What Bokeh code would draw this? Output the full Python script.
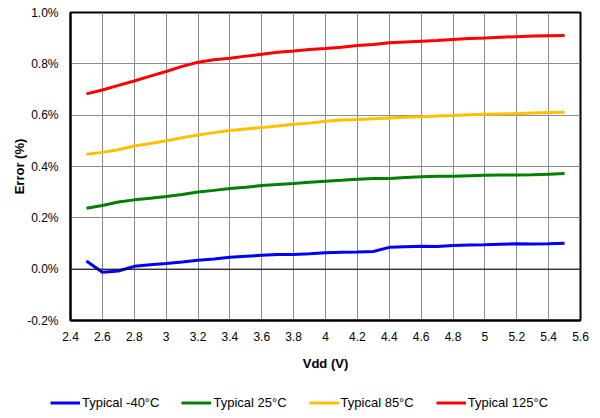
from bokeh.plotting import figure
from bokeh.models import Range1d, FixedTicker, Legend, LegendItem, Span
from bokeh.layouts import column, row
from bokeh.embed import file_html
from bokeh.resources import INLINE

vdd = [2.5, 2.6, 2.7, 2.8, 2.9, 3.0, 3.1, 3.2, 3.3, 3.4, 3.5, 3.6, 3.7, 3.8, 3.9, 4.0,
       4.1, 4.2, 4.3, 4.4, 4.5, 4.6, 4.7, 4.8, 4.9, 5.0, 5.1, 5.2, 5.3, 5.4, 5.5]
err_m40 = [0.032, -0.012, -0.007, 0.011, 0.017, 0.022, 0.028, 0.035, 0.040, 0.046, 0.050,
           0.054, 0.057, 0.057, 0.060, 0.064, 0.066, 0.067, 0.069, 0.085, 0.087, 0.089,
           0.088, 0.092, 0.094, 0.095, 0.097, 0.099, 0.098, 0.099, 0.101]
err_25 = [0.237, 0.248, 0.262, 0.270, 0.276, 0.283, 0.291, 0.301, 0.307, 0.314, 0.319,
          0.326, 0.330, 0.334, 0.339, 0.343, 0.346, 0.350, 0.353, 0.353, 0.357, 0.360,
          0.362, 0.362, 0.364, 0.366, 0.367, 0.367, 0.368, 0.370, 0.373]
err_85 = [0.448, 0.455, 0.465, 0.480, 0.490, 0.500, 0.512, 0.523, 0.532, 0.540, 0.546,
          0.552, 0.558, 0.565, 0.569, 0.576, 0.581, 0.583, 0.586, 0.589, 0.592, 0.594,
          0.597, 0.599, 0.602, 0.604, 0.605, 0.606, 0.608, 0.610, 0.611]
err_125 = [0.683, 0.698, 0.716, 0.733, 0.752, 0.770, 0.790, 0.806, 0.816, 0.822, 0.830,
           0.837, 0.845, 0.850, 0.856, 0.860, 0.865, 0.871, 0.875, 0.882, 0.885, 0.888,
           0.891, 0.895, 0.899, 0.901, 0.904, 0.906, 0.908, 0.909, 0.910]

series_names = ["Typical -40°C", "Typical 25°C", "Typical 85°C", "Typical 125°C"]
series_values = [err_m40, err_25, err_85, err_125]
series_colors = ["#0000FF", "#008000", "#FFC000", "#FF0000"]

x_ticks = [2.4, 2.6, 2.8, 3.0, 3.2, 3.4, 3.6, 3.8, 4.0, 4.2, 4.4, 4.6, 4.8, 5.0, 5.2, 5.4, 5.6]
x_tick_labels = ["2.4", "2.6", "2.8", "3", "3.2", "3.4", "3.6", "3.8", "4", "4.2", "4.4",
                 "4.6", "4.8", "5", "5.2", "5.4", "5.6"]
y_ticks = [-0.2, 0.0, 0.2, 0.4, 0.6, 0.8, 1.0]
y_tick_labels = ["-0.2%", "0.0%", "0.2%", "0.4%", "0.6%", "0.8%", "1.0%"]

FONT = "Liberation Sans"

p = figure(width=592, height=380, output_backend="svg", toolbar_location=None,
           x_range=Range1d(2.4, 5.6), y_range=Range1d(-0.2, 1.0),
           min_border_left=70, min_border_right=12, min_border_top=12, min_border_bottom=60)
p.background_fill_color = "white"
p.border_fill_color = "white"
p.outline_line_color = "black"
p.outline_line_width = 2

p.xaxis.ticker = FixedTicker(ticks=x_ticks)
p.yaxis.ticker = FixedTicker(ticks=y_ticks)
p.xaxis.major_label_overrides = {t: l for t, l in zip(x_ticks, x_tick_labels)}
p.yaxis.major_label_overrides = {t: l for t, l in zip(y_ticks, y_tick_labels)}

for ax in (p.xaxis, p.yaxis):
    ax.axis_line_color = "black"
    ax.axis_line_width = 2
    ax.major_tick_out = 0
    ax.major_tick_in = 0
    ax.minor_tick_out = 0
    ax.minor_tick_in = 0
    ax.major_label_text_font = FONT
    ax.major_label_text_font_size = "12px"
    ax.major_label_text_color = "black"
    ax.axis_label_text_font = FONT
    ax.axis_label_text_font_size = "13px"
    ax.axis_label_text_font_style = "bold"
    ax.axis_label_text_color = "black"

p.xaxis.axis_label = "Vdd (V)"
p.yaxis.axis_label = "Error (%)"
p.xaxis.major_label_standoff = 11
p.yaxis.major_label_standoff = 12
p.xaxis.axis_label_standoff = 12
p.yaxis.axis_label_standoff = -3

p.xgrid.grid_line_color = "#8c8c8c"
p.ygrid.grid_line_color = "#8c8c8c"
p.xgrid.grid_line_width = 1
p.ygrid.grid_line_width = 1

p.add_layout(Span(location=0, dimension="width", line_color="black", line_width=1))

for vals, col in zip(series_values, series_colors):
    p.line(vdd, vals, line_color=col, line_width=3)

# Legend strip below the chart (series drawn off-range so only the legend shows)
lg = figure(width=592, height=30, output_backend="svg", toolbar_location=None,
            x_range=Range1d(0, 1), y_range=Range1d(0, 1),
            x_axis_location=None, y_axis_location=None,
            min_border_left=0, min_border_right=0, min_border_top=0, min_border_bottom=0)
lg.grid.visible = False
lg.outline_line_color = None
lg.background_fill_color = "white"
lg.border_fill_color = "white"

items = []
for name, vals, col in zip(series_names, series_values, series_colors):
    r = lg.line(vdd, vals, line_color=col, line_width=3)
    items.append(LegendItem(label=name, renderers=[r]))

legend = Legend(items=items, orientation="horizontal", location=(50, 0),
                spacing=22, glyph_width=30, glyph_height=13, label_height=13,
                label_standoff=2, padding=0, margin=0,
                border_line_color=None, background_fill_alpha=0,
                label_text_font=FONT, label_text_font_size="13px",
                label_text_color="black")
lg.add_layout(legend, "center")

layout = column(p, row(lg, spacing=0), spacing=0)
open("out.html", "w").write(file_html(layout, INLINE))
